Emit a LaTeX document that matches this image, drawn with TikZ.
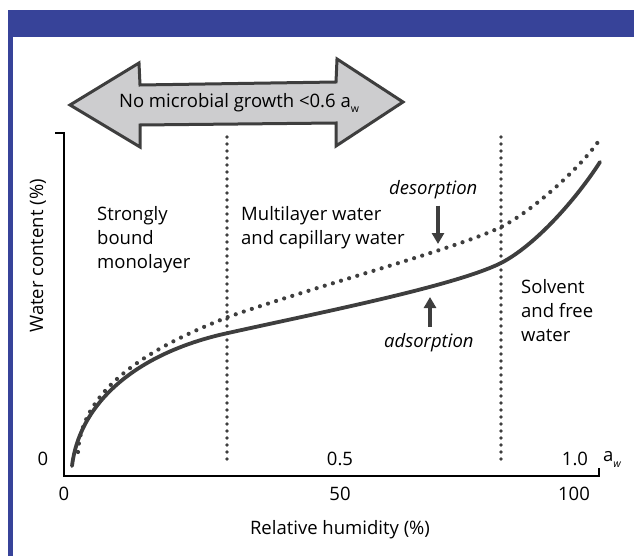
\documentclass[tikz,border=0pt]{standalone}
\usepackage{fontspec}
\setmainfont{Open Sans}
\usetikzlibrary{arrows.meta, positioning}
\definecolor{frameblue}{RGB}{55,67,153}
\definecolor{curvegray}{RGB}{62,62,62}
\definecolor{bandfill}{RGB}{205,205,207}

\begin{document}
\begin{tikzpicture}
  [
    x=1pt, y=-1pt,
    every node/.style={font=\fontsize{18.5}{24}\selectfont, inner sep=0pt},
    zone/.style={align=left, anchor=north west},
    tick label/.style={anchor=center},
    isotherm/.style={line width=3.8pt, curvegray, line cap=round},
    dotcurve/.style={line width=4.2pt, curvegray, line cap=round, dash pattern=on 0pt off 8.5pt},
    divider/.style={line width=3.8pt, curvegray, line cap=round, dash pattern=on 0pt off 7pt},
    pointer/.style={line width=3.2pt, curvegray, -{Triangle[length=11pt,width=12pt]}},
    axis/.style={line width=1.3pt, black},
    band/.style={draw=curvegray, fill=bandfill, line width=3pt, line join=miter}
  ]
  \useasboundingbox (0,0) rectangle (634,556);
  % frame
  \fill[frameblue] (8,10) rectangle (634,37);
  \fill[frameblue] (8,10) rectangle (13,556);

  % no growth band
  \draw[band] (70,105) -- (139,63) -- (140,85) -- (336,82) -- (337,59)
    -- (403,102) -- (336,146) -- (336,123) -- (140,125) -- (140,147) -- cycle;
  \node (nogrowth) at (239,103)
    {No microbial growth <0.6 a\raisebox{-0.45ex}{\fontsize{10.5}{10.5}\selectfont w}};

  % axes
  \coordinate (origin) at (64,476);
  \coordinate (ytop) at (64,133);
  \coordinate (xend) at (599,476);
  \draw[axis] ([xshift=-9pt]ytop) -- (ytop) -- (origin) -- (xend) -- ([yshift=8pt]xend);

  % zone dividers
  \coordinate (div1top) at (227,137);
  \coordinate (div1bot) at (227,460);
  \coordinate (div2top) at (501,137);
  \coordinate (div2bot) at (501,460);
  \draw[divider] (div1top) -- (div1bot);
  \draw[divider] (div2top) -- (div2bot);

  % isotherms
  \draw[dotcurve] (78,452) .. controls (82,380) and (170,340) .. (228,317)
    .. controls (318,285.5) and (460,247.5) .. (501,227)
    .. controls (531,212) and (578,170) .. (598,142);
  \draw[isotherm] (72,466) .. controls (80,400) and (140,352) .. (228,333)
    .. controls (318,313) and (455,286) .. (501,263)
    .. controls (536,245) and (577,198) .. (600,162);

  % zone labels
  \node[zone] (bound) at (97,206) {Strongly\\bound\\monolayer};
  \node[zone] (multi) at (241,206) {Multilayer water\\and capillary water};
  \node[zone] (solvent) at (521,279) {Solvent\\and free\\water};

  % desorption / adsorption
  \node[anchor=base west, font=\fontsize{18.5}{24}\selectfont\itshape] (desorp) at (389,195) {desorption};
  \node[anchor=base west, font=\fontsize{18.5}{24}\selectfont\itshape] (adsorp) at (384,347) {adsorption};
  \coordinate (desorptip) at (438,244);
  \coordinate (adsorptip) at (430,297);
  \draw[pointer] (desorp.south -| desorptip) ++(0,6) -- (desorptip);
  \draw[pointer] (adsorp.north -| adsorptip) ++(0,-6) -- (adsorptip);

  % tick labels
  \node[tick label] (aw0) at (43,459) {0};
  \node[tick label] (aw05) at (340,459) {0.5};
  \node[tick label] (aw1) at (575,459) {1.0};
  \node[anchor=west] (awunit) at (603,459)
    {a\raisebox{-0.6ex}{\fontsize{10.5}{10.5}\selectfont\itshape w}};
  \node[tick label] (rh0) at (64,494) {0};
  \node[tick label] (rh50) at (340,494) {50};
  \node[tick label] (rh100) at (574,494) {100};

  % axis titles
  \node (xtitle) at (340,530) {Relative humidity (\%)};
  \node[rotate=90] (ytitle) at (38,256) {Water content (\%)};
\end{tikzpicture}
\end{document}
